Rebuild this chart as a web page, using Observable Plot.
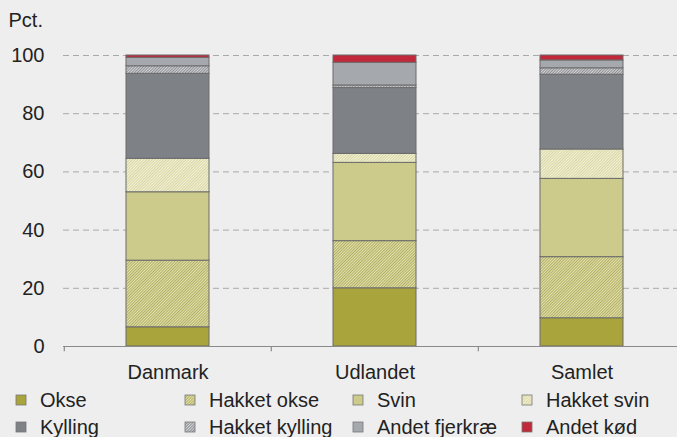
<!DOCTYPE html>
<html><head><meta charset="utf-8">
<script src="https://cdn.jsdelivr.net/npm/d3@7"></script>
<script src="https://cdn.jsdelivr.net/npm/@observablehq/plot@0.6"></script>
<style>
body{margin:0;background:#eeeeee;font-family:"Liberation Sans",Arial,sans-serif;}
#c{position:relative;width:677px;height:437px;overflow:hidden;background:#eeeeee}
#c svg{display:block}
</style></head><body><div id="c"></div><script>
const categories = ["Danmark","Udlandet","Samlet"];
const series = ["Okse","Hakket okse","Svin","Hakket svin","Kylling","Hakket kylling","Andet fjerkræ","Andet kød"];
const danmark  = [6.6,22.9,23.5,11.5,29.2,2.6,2.9,0.8];
const udlandet = [20.0,16.2,26.9,3.1,22.6,0.9,7.8,2.5];
const samlet   = [9.7,21.0,26.9,10.1,25.7,2.2,2.7,1.7];
const yTicks = [0,20,40,60,80,100];

const fills = ["#a9a43c","url(#p-hokse)","#cdcb8c","url(#p-hsvin)","#7e8186","url(#p-hkyl)","#a5a8ad","#c1283a"];
const valuesByCat = {Danmark: danmark, Udlandet: udlandet, Samlet: samlet};
const data = [];
for (const c of categories) series.forEach((s,i)=>data.push({cat:c, series:s, value:valuesByCat[c][i]}));

const font = '"Liberation Sans", Arial, sans-serif';
const FS = 20;
const plot = Plot.plot({
  width:677, height:385, marginLeft:63, marginRight:0, marginTop:55, marginBottom:39,
  style:{background:"transparent", fontFamily:font, fontSize:FS+"px", color:"#222"},
  x:{domain:categories, range:[63,685], paddingInner:0.6, paddingOuter:0.3, label:null, axis:null},
  y:{domain:[0,100], label:null, axis:null},
  color:{domain:series, range:fills},
  marks:[
    Plot.ruleY(yTicks.filter(d=>d>0), {stroke:"#a9a9a9", strokeDasharray:"6,4", strokeWidth:1}),
    Plot.barY(data, Plot.stackY({x:"cat", y:"value", fill:"series", order:series, stroke:"#6b6b6b", strokeWidth:1})),
    Plot.ruleY([0], {stroke:"#8a8a8a", strokeWidth:1.2}),
    Plot.ruleX(categories, {x:d=>d, dx:-103.7, y1:0, y2:-1.8, stroke:"#8a8a8a", strokeWidth:1.2}),
    Plot.axisY({ticks:yTicks, tickSize:0, tickPadding:19, fontSize:FS, fill:"#222"}),
    Plot.axisX({tickSize:0, tickPadding:18, fontSize:FS, fill:"#222"}),
    Plot.text(["Pct."], {frameAnchor:"top-left", dx:-55, dy:-35, textAnchor:"start", lineAnchor:"middle", fontSize:FS, fill:"#222"})
  ]
});

function addPatterns(svgSel){
  const defs = svgSel.insert("defs", ":first-child");
  const mk = (id, bg, fg) => {
    const p = defs.append("pattern").attr("id", id).attr("patternUnits","userSpaceOnUse")
      .attr("width",2).attr("height",2).attr("patternTransform","rotate(45)");
    p.append("rect").attr("width",2).attr("height",2).attr("fill",bg);
    p.append("rect").attr("width",1).attr("height",2).attr("fill",fg);
  };
  mk("p-hokse", "#e2e0ad", "#b3b065");
  mk("p-hsvin", "#f4f3d8", "#d6d4a2");
  mk("p-hkyl", "#d3d4d6", "#8d8f93");
}
addPatterns(d3.select(plot));
document.getElementById("c").appendChild(plot);

// legend
const leg = d3.select("#c").append("svg").attr("width",677).attr("height",52);
const colX = [16,185,353,522];
const rowY = [15,42];
series.forEach((s,i)=>{
  const col = i % 4, row = Math.floor(i/4);
  const g = leg.append("g").attr("transform",`translate(${colX[col]},${rowY[row]})`);
  g.append("rect").attr("x",0).attr("y",-5).attr("width",10).attr("height",10)
    .attr("fill",fills[i]).attr("stroke","#777").attr("stroke-width",0.8);
  g.append("text").attr("x",24).attr("y",0).attr("dy","0.35em")
    .attr("font-family",font).attr("font-size",FS).attr("fill","#222").text(s);
});
</script></body></html>
